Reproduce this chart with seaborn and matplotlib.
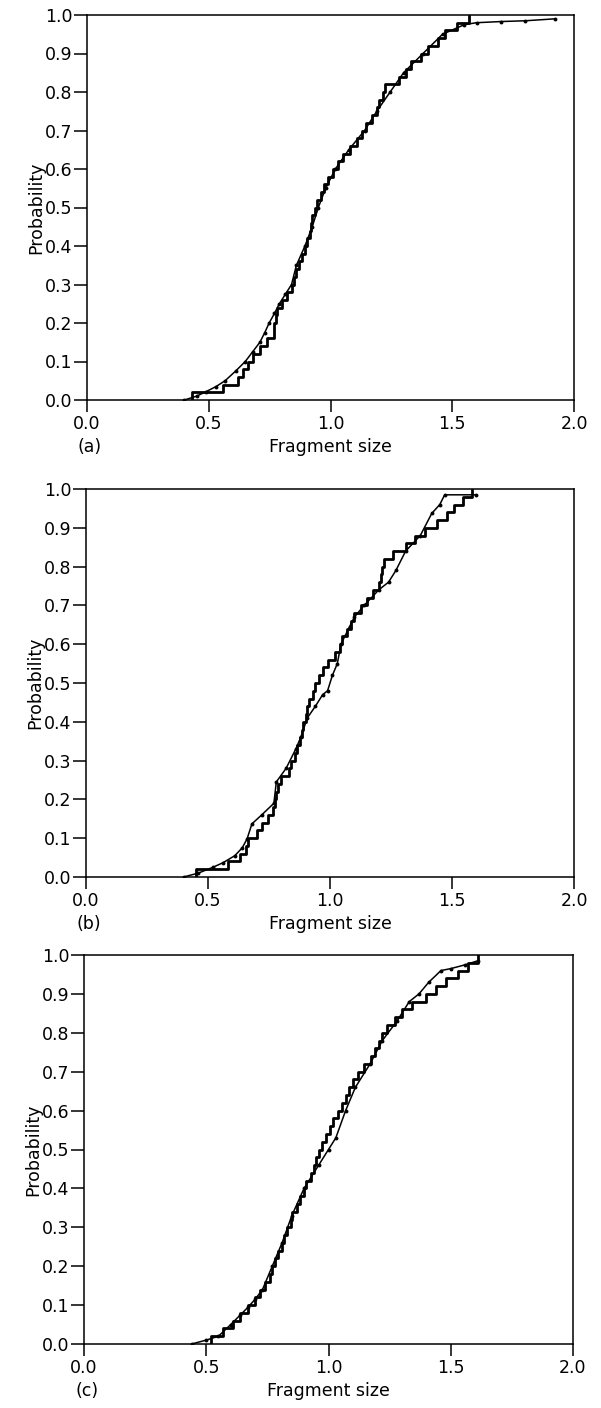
import matplotlib
matplotlib.use("Agg")
import matplotlib.pyplot as plt
import numpy as np
import seaborn as sns

# Measured fragment sizes (sorted), one sample per panel -> drawn as step ECDFs
sizes_a = [0.43, 0.56, 0.62, 0.64, 0.66, 0.68, 0.71, 0.74, 0.77, 0.77,
           0.775, 0.78, 0.80, 0.82, 0.84, 0.85, 0.86, 0.87, 0.885, 0.895,
           0.905, 0.915, 0.92, 0.925, 0.935, 0.945, 0.96, 0.975, 0.99, 1.01,
           1.03, 1.05, 1.08, 1.11, 1.13, 1.145, 1.17, 1.19, 1.20, 1.215,
           1.225, 1.28, 1.31, 1.33, 1.37, 1.40, 1.44, 1.47, 1.52, 1.57]
sizes_b = [0.45, 0.58, 0.63, 0.655, 0.665, 0.70, 0.72, 0.745, 0.765, 0.775,
           0.78, 0.785, 0.80, 0.83, 0.84, 0.855, 0.865, 0.875, 0.885, 0.89,
           0.90, 0.905, 0.915, 0.93, 0.94, 0.955, 0.97, 0.99, 1.02, 1.04,
           1.05, 1.07, 1.085, 1.10, 1.125, 1.15, 1.175, 1.20, 1.21, 1.215,
           1.22, 1.26, 1.31, 1.35, 1.39, 1.44, 1.48, 1.51, 1.545, 1.58]
sizes_c = [0.52, 0.57, 0.61, 0.64, 0.67, 0.70, 0.72, 0.74, 0.76, 0.77,
           0.78, 0.795, 0.81, 0.82, 0.83, 0.845, 0.85, 0.87, 0.885, 0.90,
           0.91, 0.93, 0.94, 0.95, 0.96, 0.975, 0.99, 1.005, 1.02, 1.04,
           1.055, 1.07, 1.085, 1.10, 1.12, 1.145, 1.175, 1.19, 1.205, 1.22,
           1.24, 1.27, 1.30, 1.34, 1.40, 1.44, 1.48, 1.53, 1.57, 1.61]

# Model distribution curves (size, cumulative probability)
model_x_a = [0.40, 0.45, 0.49, 0.53, 0.567, 0.61, 0.65, 0.68, 0.71, 0.73,
             0.748, 0.77, 0.79, 0.815, 0.84, 0.86, 0.895, 0.925, 0.95, 0.98,
             1.02, 1.075, 1.14, 1.19, 1.245, 1.30, 1.38, 1.46, 1.55, 1.60,
             1.70, 1.80, 1.92]
model_p_a = [0.0, 0.01, 0.022, 0.035, 0.05, 0.075, 0.10, 0.125, 0.15, 0.175,
             0.20, 0.225, 0.25, 0.275, 0.30, 0.35, 0.40, 0.45, 0.50, 0.55,
             0.60, 0.65, 0.70, 0.75, 0.80, 0.85, 0.90, 0.95, 0.975, 0.98,
             0.983, 0.985, 0.99]
model_x_b = [0.40, 0.46, 0.52, 0.562, 0.61, 0.64, 0.66, 0.68, 0.72, 0.77,
             0.78, 0.82, 0.86, 0.88, 0.907, 0.94, 0.97, 0.99, 1.01, 1.03,
             1.045, 1.08, 1.10, 1.14, 1.20, 1.24, 1.27, 1.31, 1.37, 1.417,
             1.45, 1.47, 1.60]
model_p_b = [0.0, 0.01, 0.025, 0.037, 0.055, 0.075, 0.098, 0.137, 0.16, 0.19,
             0.245, 0.28, 0.33, 0.36, 0.41, 0.44, 0.47, 0.48, 0.52, 0.55,
             0.60, 0.645, 0.67, 0.70, 0.74, 0.76, 0.79, 0.84, 0.88, 0.937,
             0.96, 0.985, 0.985]
model_x_c = [0.44, 0.50, 0.55, 0.60, 0.64, 0.67, 0.70, 0.73, 0.77, 0.81,
             0.85, 0.90, 0.96, 1.00, 1.03, 1.07, 1.11, 1.17, 1.22, 1.28,
             1.33, 1.37, 1.41, 1.46, 1.50, 1.56, 1.61]
model_p_c = [0.0, 0.01, 0.02, 0.05, 0.075, 0.094, 0.115, 0.14, 0.20, 0.26,
             0.33, 0.40, 0.46, 0.50, 0.53, 0.60, 0.66, 0.72, 0.78, 0.83,
             0.88, 0.90, 0.93, 0.96, 0.965, 0.975, 0.985]

panel_tags = ["(a)", "(b)", "(c)"]
x_ticks = [0.0, 0.5, 1.0, 1.5, 2.0]
y_ticks = [0.0, 0.1, 0.2, 0.3, 0.4, 0.5, 0.6, 0.7, 0.8, 0.9, 1.0]

sns.set_theme(style="ticks")
plt.rcParams["font.family"] = ["DejaVu Sans"]

W, H = 601, 1408
fig = plt.figure(figsize=(W / 100, H / 100), dpi=100)
fig.patch.set_facecolor("white")

# axes boxes in pixels: left, right, top, bottom
boxes = [(87, 574, 15, 400), (86, 574, 489, 877), (84, 573, 955, 1344)]
samples = [sizes_a, sizes_b, sizes_c]
models = [(model_x_a, model_p_a), (model_x_b, model_p_b), (model_x_c, model_p_c)]

px2pt = 72 / 100
FS = 12.5

for (l, r, t, b), sizes, (mx, mp), tag in zip(boxes, samples, models, panel_tags):
    ax = fig.add_axes([l / W, 1 - b / H, (r - l) / W, (b - t) / H])
    ax.set_facecolor("white")

    sns.lineplot(x=mx, y=mp, ax=ax, color="black", linewidth=1.1,
                 marker="o", markersize=2.8, markeredgewidth=0,
                 sort=False, estimator=None)
    sns.ecdfplot(x=sizes, ax=ax, color="black", linewidth=2.0)

    ax.set_xlim(0, 2)
    ax.set_ylim(0, 1)
    ax.set_xticks(x_ticks)
    ax.set_yticks(y_ticks)
    ax.set_xticklabels([f"{v:.1f}" for v in x_ticks])
    ax.set_yticklabels([f"{v:.1f}" for v in y_ticks])
    ax.tick_params(axis="x", direction="out", length=12 * px2pt, width=1.1,
                   pad=2, labelsize=FS, colors="black")
    ax.tick_params(axis="y", direction="out", length=13 * px2pt, width=1.1,
                   pad=1, labelsize=FS, colors="black")
    for s in ax.spines.values():
        s.set_visible(True)
        s.set_color("black")
        s.set_linewidth(1.1)

    ax.set_ylabel("Probability", fontsize=FS, labelpad=0, color="black")
    ax.set_xlabel("")
    ax.annotate("Fragment size", xy=(0.5, 0), xycoords="axes fraction",
                xytext=(0, -47 * px2pt), textcoords="offset points",
                ha="center", va="center", fontsize=FS, color="black")
    ax.annotate(tag, xy=(0, 0), xycoords="axes fraction",
                xytext=(3 * px2pt, -47 * px2pt), textcoords="offset points",
                ha="center", va="center", fontsize=FS, color="black")

fig.savefig("out.png", dpi=100, facecolor="white")
